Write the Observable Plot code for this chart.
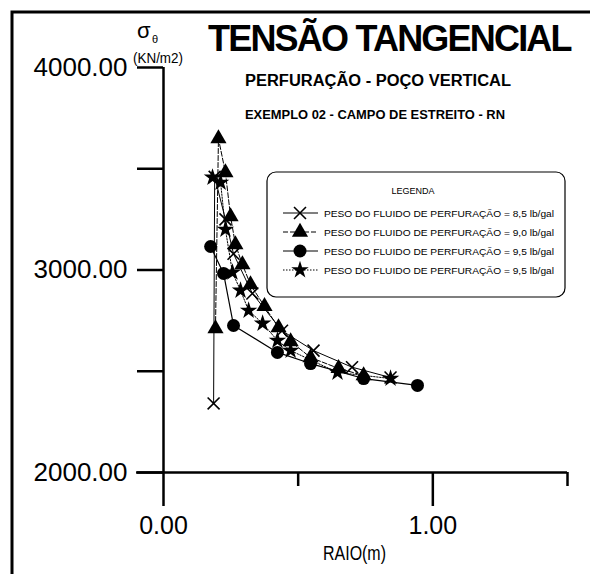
<!DOCTYPE html>
<html><head><meta charset="utf-8">
<script src="https://cdn.jsdelivr.net/npm/d3@7"></script>
<script src="https://cdn.jsdelivr.net/npm/@observablehq/plot@0.6"></script>
<style>html,body{margin:0;padding:0;background:#fff}</style>
</head><body><div id="chart"></div>
<script>
// Series: PESO DO FLUIDO DE PERFURAÇÃO
const raio85 = [0.186, 0.19, 0.23, 0.26, 0.33, 0.44, 0.557, 0.70, 0.843];
const sig85  = [2341, 3460, 3250, 3080, 2884, 2700, 2602, 2520, 2469];
const raio90 = [0.193, 0.204, 0.230, 0.249, 0.267, 0.293, 0.323, 0.375, 0.427, 0.472, 0.546, 0.650, 0.743];
const sig90  = [2711, 3649, 3481, 3264, 3126, 3027, 2928, 2820, 2716, 2647, 2568, 2514, 2479];
const raio95 = [0.175, 0.223, 0.260, 0.423, 0.546, 0.743, 0.943];
const sig95  = [3116, 2983, 2726, 2593, 2538, 2464, 2430];
const raio95b = [0.182, 0.212, 0.23, 0.256, 0.286, 0.316, 0.368, 0.423, 0.472, 0.646, 0.843];
const sig95b  = [3457, 3432, 3200, 2988, 2899, 2800, 2736, 2652, 2602, 2494, 2464];

const yTicks = [2000, 2500, 3000, 3500, 4000];
const yLabelTicks = [2000, 3000, 4000];
const xMajor = [0, 1];
const xMinor = [0.5, 1.5];
const legendLabels = [
  "PESO DO FLUIDO DE PERFURAÇÃO = 8,5 lb/gal",
  "PESO DO FLUIDO DE PERFURAÇÃO = 9,0 lb/gal",
  "PESO DO FLUIDO DE PERFURAÇÃO = 9,5 lb/gal",
  "PESO DO FLUIDO DE PERFURAÇÃO = 9,5 lb/gal"
];

const toRows = (rs, ss) => rs.map((r, i) => ({r, s: ss[i]}));
const d85 = toRows(raio85, sig85), d90 = toRows(raio90, sig90),
      d95 = toRows(raio95, sig95), d95b = toRows(raio95b, sig95b);

const FONT = "'Liberation Sans', Arial, sans-serif";

const plot = Plot.plot({
  width: 600, height: 574,
  marginLeft: 163, marginRight: 33, marginTop: 67, marginBottom: 102,
  style: {fontFamily: FONT, background: "#fff", color: "#000"},
  x: {domain: [0, 1.5]},
  y: {domain: [2000, 4000]},
  marks: [
    Plot.axisY({ticks: yTicks, tickSize: 26, tickPadding: 10, fontSize: 26, strokeWidth: 2.5,
      tickFormat: d => yLabelTicks.includes(d) ? d.toFixed(2) : "", label: null}),
    Plot.axisX({ticks: xMajor, tickSize: 34, tickPadding: 10, fontSize: 25, strokeWidth: 2.5,
      tickFormat: d => d.toFixed(2), label: null}),
    Plot.axisX({ticks: xMinor, tickSize: 14, strokeWidth: 2.5, tickFormat: () => "", label: null}),
    Plot.ruleX([0], {y1: 2000, y2: 4000, strokeWidth: 2.5}),
    Plot.ruleY([2000], {x1: -0.1, x2: 1.5, strokeWidth: 2.5}),
    Plot.line(d85, {x: "r", y: "s", stroke: "black", strokeWidth: 1}),
    Plot.line(d90, {x: "r", y: "s", stroke: "black", strokeWidth: 1, strokeDasharray: "5,2"}),
    Plot.line(d95, {x: "r", y: "s", stroke: "black", strokeWidth: 1.2}),
    Plot.line(d95b, {x: "r", y: "s", stroke: "black", strokeWidth: 1, strokeDasharray: "1.5,1.5"}),
    Plot.dot(d85, {x: "r", y: "s", symbol: "times", r: 5.5, stroke: "black", strokeWidth: 1.6}),
    Plot.dot(d90, {x: "r", y: "s", symbol: "triangle", r: 6, fill: "black"}),
    Plot.dot(d95, {x: "r", y: "s", symbol: "circle", r: 6.5, fill: "black"}),
    Plot.dot(d95b, {x: "r", y: "s", symbol: "star", r: 5.5, fill: "black"})
  ]
});
document.getElementById("chart").appendChild(plot);

const svg = d3.select(plot);
// frame
svg.append("path").attr("d", "M12,574 L12,12 L590,12").attr("fill", "none")
  .attr("stroke", "black").attr("stroke-width", 3);

const txt = (x, y, s, size, opts = {}) => {
  const t = svg.append("text").attr("x", x).attr("y", y).text(s)
    .attr("font-family", FONT).attr("font-size", size).attr("fill", "black")
    .attr("text-anchor", opts.anchor || "start");
  if (opts.bold) t.attr("font-weight", "bold");
  if (opts.ls != null) t.attr("letter-spacing", opts.ls);
  if (opts.len) t.attr("textLength", opts.len).attr("lengthAdjust", "spacingAndGlyphs");
  return t;
};
// titles
txt(208, 51, "TENSÃO TANGENCIAL", 36, {bold: true, ls: -1.8});
txt(245, 86, "PERFURAÇÃO - POÇO VERTICAL", 16, {bold: true, len: 266});
txt(245, 119, "EXEMPLO 02 - CAMPO DE ESTREITO - RN", 13, {bold: true, len: 260});
// y unit label
txt(137, 38, "σ", 22);
txt(152, 43, "θ", 11);
txt(133, 63, "(KN/m2)", 14, {len: 50});
// x label
txt(323, 560, "RAIO(m)", 21, {len: 63});

// legend
svg.append("rect").attr("x", 267).attr("y", 172).attr("width", 298).attr("height", 125)
  .attr("rx", 9).attr("fill", "white").attr("stroke", "black").attr("stroke-width", 1.2);
txt(413, 194, "LEGENDA", 9, {anchor: "middle"});
const rowY = [213, 232, 251, 270];
const syms = [
  {sym: d3.symbolTimes, dash: null, fill: "none", stroke: 1.6, size: 5.5},
  {sym: d3.symbolTriangle, dash: "5,2", fill: "black", stroke: 0, size: 6},
  {sym: d3.symbolCircle, dash: null, fill: "black", stroke: 0, size: 6.5},
  {sym: d3.symbolStar, dash: "1.5,1.5", fill: "black", stroke: 0, size: 5.5}
];
rowY.forEach((y, i) => {
  const s = syms[i];
  const l = svg.append("line").attr("x1", 283).attr("x2", 318).attr("y1", y).attr("y2", y)
    .attr("stroke", "black").attr("stroke-width", 1);
  if (s.dash) l.attr("stroke-dasharray", s.dash);
  svg.append("path").attr("d", d3.symbol(s.sym, Math.PI * s.size * s.size)()).attr("transform", `translate(300,${y})`)
    .attr("fill", s.fill).attr("stroke", s.stroke ? "black" : "none").attr("stroke-width", s.stroke);
  txt(324, y + 3.5, legendLabels[i], 9, {len: 230});
});
</script></body></html>
